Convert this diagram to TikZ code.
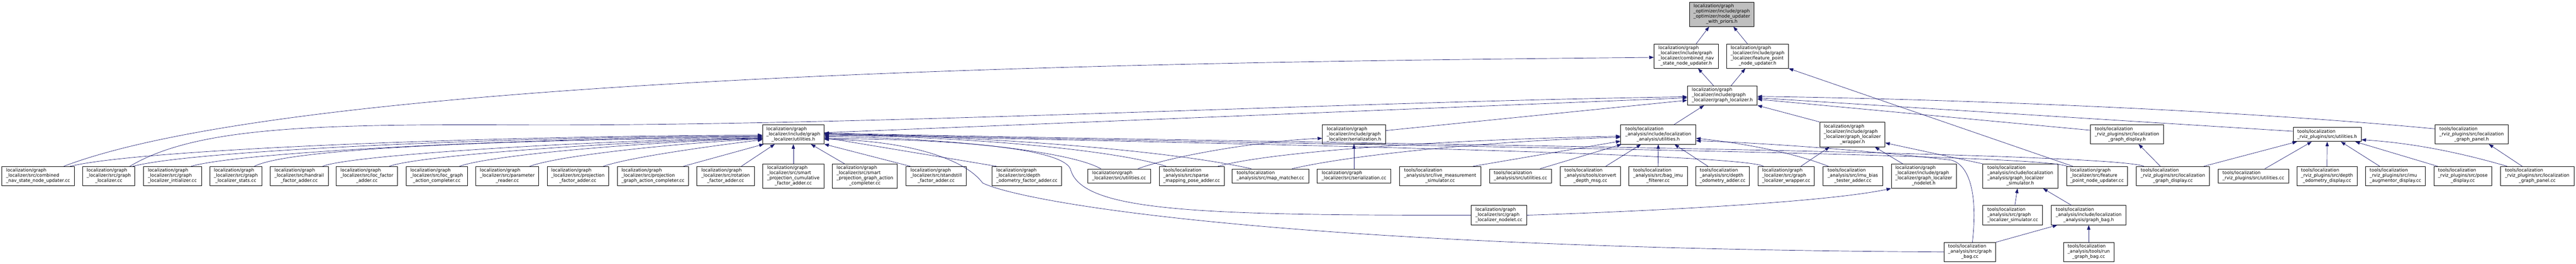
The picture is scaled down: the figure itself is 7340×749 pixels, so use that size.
\documentclass[tikz,border=0pt]{standalone}
\usepackage{fontspec}
\setmainfont{DejaVu Sans}
\usetikzlibrary{arrows.meta}
\definecolor{edgecol}{HTML}{191970}
\definecolor{grayfill}{HTML}{BFBFBF}
\newcommand{\dfont}{\fontsize{12.9pt}{14.7pt}\selectfont}
\newcommand{\dl}[2]{\begin{tabular}{@{}l@{}}#1\\\multicolumn{1}{@{}c@{}}{#2}\end{tabular}}
\tikzset{
  dbox/.style={draw=black,line width=1.2pt,fill=white,inner sep=0pt,font=\dfont},
  btwo/.style={dbox,minimum height=41pt},
  bthree/.style={dbox,minimum height=55pt},
  bfour/.style={dbox,minimum height=69pt},
  edge/.style={draw=edgecol,line width=1pt,-{Triangle[length=13pt,width=9.5pt]}},
}
\begin{document}
\begin{tikzpicture}[x=1pt,y=-1pt]
\fill[white] (0,0) rectangle (7340,749);
\useasboundingbox (0,0) rectangle (7340,749);

% ---- rows 0-3
\node[bfour,fill=grayfill,minimum width=184pt] (T0) at (4906,40.5) {\dl{localization/graph\\\_optimizer/include/graph\\\_optimizer/node\_updater}{\_with\_priors.h}};
\node[bfour,minimum width=183pt] (CNh) at (4804.5,159.5) {\dl{localization/graph\\\_localizer/include/graph\\\_localizer/combined\_nav}{\_state\_node\_updater.h}};
\node[bfour,minimum width=176pt] (FPh) at (5008,159.5) {\dl{localization/graph\\\_localizer/include/graph\\\_localizer/feature\_point}{\_node\_updater.h}};
\node[bthree,minimum width=199pt] (GLh) at (4907.5,271.5) {\dl{localization/graph\\\_localizer/include/graph}{\_localizer/graph\_localizer.h}};
\node[bthree,minimum width=175pt,minimum height=54pt] (UTh) at (2260.5,382) {\dl{localization/graph\\\_localizer/include/graph}{\_localizer/utilities.h}};
\node[bthree,minimum width=180pt,minimum height=54pt] (SERh) at (3858,382) {\dl{localization/graph\\\_localizer/include/graph}{\_localizer/serialization.h}};
\node[bthree,minimum width=214pt] (LAUh) at (4725,382) {\dl{tools/localization\\\_analysis/include/localization}{\_analysis/utilities.h}};
\node[bfour,minimum width=186pt,minimum height=70pt] (GLWh) at (5278,382) {\dl{localization/graph\\\_localizer/include/graph\\\_localizer/graph\_localizer}{\_wrapper.h}};
\node[bthree,minimum width=209pt,minimum height=54pt] (RDh) at (6060.5,382) {\dl{tools/localization\\\_rviz\_plugins/src/localization}{\_graph\_display.h}};
\node[btwo,minimum width=194pt,minimum height=40pt] (RUh) at (6631,382) {\dl{tools/localization}{\_rviz\_plugins/src/utilities.h}};
\node[bthree,minimum width=209pt,minimum height=54pt] (RPh) at (7042.5,382) {\dl{tools/localization\\\_rviz\_plugins/src/localization}{\_graph\_panel.h}};

% ---- row 4
\node[bthree,minimum width=207pt] (CNcc) at (108.5,500.5) {\dl{localization/graph\\\_localizer/src/combined}{\_nav\_state\_node\_updater.cc}};
\node[bthree,minimum width=148pt] (GLcc) at (310,500.5) {\dl{localization/graph\\\_localizer/src/graph}{\_localizer.cc}};
\node[bthree,minimum width=166pt] (GLIcc) at (491,500.5) {\dl{localization/graph\\\_localizer/src/graph}{\_localizer\_intializer.cc}};
\node[bthree,minimum width=148pt] (GLSTcc) at (672,500.5) {\dl{localization/graph\\\_localizer/src/graph}{\_localizer\_stats.cc}};
\node[bthree,minimum width=165pt] (HRcc) at (852.5,500.5) {\dl{localization/graph\\\_localizer/src/handrail}{\_factor\_adder.cc}};
\node[bthree,minimum width=175pt] (LFcc) at (1045.5,500.5) {\dl{localization/graph\\\_localizer/src/loc\_factor}{\_adder.cc}};
\node[bthree,minimum width=175pt] (LGAcc) at (1244.5,500.5) {\dl{localization/graph\\\_localizer/src/loc\_graph}{\_action\_completer.cc}};
\node[bthree,minimum width=179pt] (PRcc) at (1445.5,500.5) {\dl{localization/graph\\\_localizer/src/parameter}{\_reader.cc}};
\node[bthree,minimum width=175pt] (PFcc) at (1646.5,500.5) {\dl{localization/graph\\\_localizer/src/projection}{\_factor\_adder.cc}};
\node[bthree,minimum width=203pt] (PGAcc) at (1860.5,500.5) {\dl{localization/graph\\\_localizer/src/projection}{\_graph\_action\_completer.cc}};
\node[bthree,minimum width=163pt] (ROTcc) at (2067.5,500.5) {\dl{localization/graph\\\_localizer/src/rotation}{\_factor\_adder.cc}};
\node[bfour,minimum width=175pt] (SPCcc) at (2260.5,500.5) {\dl{localization/graph\\\_localizer/src/smart\\\_projection\_cumulative}{\_factor\_adder.cc}};
\node[bfour,minimum width=185pt] (SPGAcc) at (2464.5,500.5) {\dl{localization/graph\\\_localizer/src/smart\\\_projection\_graph\_action}{\_completer.cc}};
\node[bthree,minimum width=171pt] (STcc) at (2667.5,500.5) {\dl{localization/graph\\\_localizer/src/standstill}{\_factor\_adder.cc}};
\node[bthree,minimum width=198pt] (DOFcc) at (2926,500.5) {\dl{localization/graph\\\_localizer/src/depth}{\_odometry\_factor\_adder.cc}};
\node[btwo,minimum width=179pt] (GUcc) at (3188.5,500.5) {\dl{localization/graph}{\_localizer/src/utilities.cc}};
\node[bthree,minimum width=185pt] (SMPcc) at (3395.5,500.5) {\dl{tools/localization\\\_analysis/src/sparse}{\_mapping\_pose\_adder.cc}};
\node[btwo,minimum width=218pt] (MMcc) at (3620,500.5) {\dl{tools/localization}{\_analysis/src/map\_matcher.cc}};
\node[btwo,minimum width=210pt] (SERcc) at (3858,500.5) {\dl{localization/graph}{\_localizer/src/serialization.cc}};
\node[bthree,minimum width=231pt] (LMScc) at (4103.5,500.5) {\dl{tools/localization\\\_analysis/src/live\_measurement}{\_simulator.cc}};
\node[btwo,minimum width=177pt] (LAUcc) at (4332.5,500.5) {\dl{tools/localization}{\_analysis/src/utilities.cc}};
\node[bthree,minimum width=173pt] (CDMcc) at (4531.5,500.5) {\dl{tools/localization\\\_analysis/tools/convert}{\_depth\_msg.cc}};
\node[bthree,minimum width=167pt] (BIFcc) at (4724.5,500.5) {\dl{tools/localization\\\_analysis/src/bag\_imu}{\_filterer.cc}};
\node[bthree,minimum width=153pt] (DOAcc) at (4908.5,500.5) {\dl{tools/localization\\\_analysis/src/depth}{\_odometry\_adder.cc}};
\node[bthree,minimum width=161pt] (GLWcc) at (5089.5,500.5) {\dl{localization/graph\\\_localizer/src/graph}{\_localizer\_wrapper.cc}};
\node[bthree,minimum width=169pt] (IBTcc) at (5279.5,500.5) {\dl{tools/localization\\\_analysis/src/imu\_bias}{\_tester\_adder.cc}};
\node[bfour,minimum width=185pt] (GLNh) at (5481.5,500.5) {\dl{localization/graph\\\_localizer/include/graph\\\_localizer/graph\_localizer}{\_nodelet.h}};
\node[bfour,minimum width=213pt] (GLSh) at (5756.5,500.5) {\dl{tools/localization\\\_analysis/include/localization\\\_analysis/graph\_localizer}{\_simulator.h}};
\node[bthree,minimum width=174pt] (FPcc) at (5975,500.5) {\dl{localization/graph\\\_localizer/src/feature}{\_point\_node\_updater.cc}};
\node[bthree,minimum width=209pt] (RDcc) at (6191.5,500.5) {\dl{tools/localization\\\_rviz\_plugins/src/localization}{\_graph\_display.cc}};
\node[btwo,minimum width=201pt] (RUcc) at (6420.5,500.5) {\dl{tools/localization}{\_rviz\_plugins/src/utilities.cc}};
\node[bthree,minimum width=171pt] (RDOcc) at (6630.5,500.5) {\dl{tools/localization\\\_rviz\_plugins/src/depth}{\_odometry\_display.cc}};
\node[bthree,minimum width=171pt] (RIAcc) at (6825.5,500.5) {\dl{tools/localization\\\_rviz\_plugins/src/imu}{\_augmentor\_display.cc}};
\node[bthree,minimum width=165pt] (RPOcc) at (7017.5,500.5) {\dl{tools/localization\\\_rviz\_plugins/src/pose}{\_display.cc}};
\node[bthree,minimum width=209pt] (RPcc) at (7229.5,500.5) {\dl{tools/localization\\\_rviz\_plugins/src/localization}{\_graph\_panel.cc}};

% ---- rows 5-6
\node[bthree,minimum width=158pt] (GLNcc) at (4271,611.5) {\dl{localization/graph\\\_localizer/src/graph}{\_localizer\_nodelet.cc}};
\node[bthree,minimum width=170pt] (GLScc) at (5735,611.5) {\dl{tools/localization\\\_analysis/src/graph}{\_localizer\_simulator.cc}};
\node[bthree,minimum width=213pt] (GBh) at (5951.5,611.5) {\dl{tools/localization\\\_analysis/include/localization}{\_analysis/graph\_bag.h}};
\node[bthree,minimum width=146pt,minimum height=54pt] (GBcc) at (5613,716) {\dl{tools/localization\\\_analysis/src/graph}{\_bag.cc}};
\node[bthree,minimum width=143pt,minimum height=54pt] (RGBcc) at (5951.5,716) {\dl{tools/localization\\\_analysis/tools/run}{\_graph\_bag.cc}};

% ---- edges: top part
\draw[edge] ([xshift=28.5pt]CNh.north) -- ([xshift=-36pt]T0.south);
\draw[edge] ([xshift=-29pt]FPh.north) -- ([xshift=33pt]T0.south);
\draw[edge] ([xshift=-25pt]GLh.north) -- ([xshift=34pt]CNh.south);
\draw[edge] ([xshift=25pt]GLh.north) -- ([xshift=-35pt]FPh.south);
\draw[edge] ([xshift=73.5pt]CNcc.north) .. controls (900,200) and (3500,175) .. ([yshift=-3.5pt]CNh.west);
\draw[edge] ([xshift=60pt]GLcc.north) .. controls (560,360) and (900,352) .. (1500,355) .. controls (2500,358) and (3800,290) .. ([yshift=-3.5pt]GLh.west);
\draw[edge] ([yshift=5pt]UTh.east) -- ([yshift=-6.5pt]GLh.west);
\draw[edge] ([yshift=11pt]SERh.east) -- ([yshift=-13.5pt]GLh.west);
\draw[edge] ([xshift=45pt]LAUh.north) -- ([xshift=-52pt]GLh.south);
\draw[edge] (GLWh.north west) -- (GLh.south east);
\draw[edge] ([yshift=12pt]RDh.west) -- ([yshift=-10.5pt]GLh.east);
\draw[edge] ([yshift=9pt]RUh.west) -- ([yshift=-6.5pt]GLh.east);
\draw[edge] ([yshift=16pt]RPh.west) .. controls (6400,315) and (5600,282) .. ([yshift=-2.5pt]GLh.east);
\draw[edge] ([xshift=-69pt]FPcc.north) -- (FPh.south east);

% ---- edges into graph_localizer/utilities.h from the left
\draw[edge] ([xshift=91.5pt]CNcc.north) .. controls (420,420) and (1500,385) .. ([yshift=-2pt]UTh.west);
\draw[edge] ([xshift=69pt]GLcc.north) .. controls (560,425) and (1500,388) .. ([yshift=-4pt]UTh.west);
\draw[edge] ([xshift=54pt]GLIcc.north) .. controls (700,428) and (1600,390) .. ([yshift=-6pt]UTh.west);
\draw[edge] ([xshift=53pt]GLSTcc.north) .. controls (850,410) and (1700,395) .. ([yshift=-8pt]UTh.west);
\draw[edge] ([xshift=67pt]HRcc.north) .. controls (1000,440) and (1700,398) .. ([yshift=-10pt]UTh.west);
\draw[edge] ([xshift=64pt]LFcc.north) .. controls (1200,440) and (1800,400) .. ([yshift=-11pt]UTh.west);
\draw[edge] ([xshift=65pt]LGAcc.north) .. controls (1400,440) and (1850,402) .. ([yshift=-12pt]UTh.west);
\draw[edge] ([xshift=64pt]PRcc.north) .. controls (1600,440) and (1950,405) .. ([yshift=-13pt]UTh.west);
\draw[edge] ([xshift=73pt]PFcc.north) .. controls (1800,445) and (2050,412) .. ([yshift=-15pt]UTh.west);
\draw[edge] ([xshift=87pt]PGAcc.north) -- ([xshift=4pt]UTh.south west);
\draw[edge] ([xshift=45pt]ROTcc.north) -- ([xshift=-53pt]UTh.south);
\draw[edge] (SPCcc.north) -- (UTh.south);
\draw[edge] ([xshift=-58pt]SPGAcc.north) -- ([xshift=50pt]UTh.south);
\draw[edge] ([xshift=-74pt]STcc.north) -- (UTh.south east);
\draw[edge] ([xshift=-87pt]DOFcc.north) -- ([yshift=-9pt]UTh.east);

% ---- edges into graph_localizer/utilities.h from the right
\draw[edge] ([xshift=-52pt]GUcc.north) .. controls (3050,430) and (2700,392) .. ([yshift=-6pt]UTh.east);
\draw[edge] ([xshift=-73pt]SMPcc.north) .. controls (3150,420) and (2700,386) .. ([yshift=-3pt]UTh.east);
\draw[edge] ([xshift=-55pt]MMcc.north) .. controls (3300,420) and (2700,382) .. ([yshift=-1pt]UTh.east);
\draw[edge] ([xshift=-65pt]GLWcc.north) .. controls (4950,430) and (3000,400) .. ([yshift=1pt]UTh.east);
\draw[edge] ([xshift=-85pt]FPcc.north) .. controls (5800,432) and (3500,410) .. ([yshift=3pt]UTh.east);
\draw[edge] ([xshift=-83pt]RDcc.north) .. controls (6000,428) and (3500,405) .. ([yshift=4pt]UTh.east);
\draw[edge] (GLNcc.west) .. controls (3400,612) and (3080,600) .. (3050,480) .. controls (3020,410) and (2600,394) .. ([yshift=-12pt]UTh.east);
\draw[edge] (GBcc.west) .. controls (3600,705) and (2900,570) .. (2800,520) .. controls (2740,440) and (2550,398) .. ([yshift=-14pt]UTh.east);

% ---- serialization
\draw[edge] ([xshift=54pt]GUcc.north) .. controls (3350,440) and (3600,400) .. ([yshift=-11pt]SERh.west);
\draw[edge] (SERcc.north) -- (SERh.south);

% ---- localization_analysis/utilities.h
\draw[edge] ([xshift=75pt]SMPcc.north) .. controls (3650,425) and (4200,395) .. ([yshift=-5pt]LAUh.west);
\draw[edge] ([xshift=62pt]MMcc.north) .. controls (3850,440) and (4250,400) .. ([yshift=-8pt]LAUh.west);
\draw[edge] ([xshift=94pt]LMScc.north) -- ([yshift=-19pt]LAUh.west);
\draw[edge] ([xshift=56pt]LAUcc.north) -- ([xshift=3pt]LAUh.south west);
\draw[edge] ([xshift=44pt]CDMcc.north) -- ([xshift=-49pt]LAUh.south);
\draw[edge] (BIFcc.north) -- (LAUh.south);
\draw[edge] ([xshift=-42pt]DOAcc.north) -- ([xshift=46pt]LAUh.south);
\draw[edge] ([xshift=-70pt]IBTcc.north) .. controls (5100,430) and (4950,405) .. ([yshift=-11pt]LAUh.east);
\draw[edge] ([xshift=7pt]GBcc.north) .. controls (5635,560) and (5615,470) .. (5560,455) .. controls (5300,425) and (5000,405) .. ([yshift=-18pt]LAUh.east);

% ---- graph bag / simulator / wrapper / nodelet
\draw[edge] (GBcc.north east) -- ([xshift=-89.5pt]GBh.south);
\draw[edge] (RGBcc.north) -- (GBh.south);
\draw[edge] ([xshift=-49pt]GBh.north) -- ([xshift=65pt]GLSh.south);
\draw[edge] ([xshift=6pt]GLScc.north) -- ([xshift=-8pt]GLSh.south);
\draw[edge] (GLSh.north west) -- ([yshift=-24pt]GLWh.east);
\draw[edge] ([xshift=-60pt]GLNh.north) -- ([xshift=64pt]GLWh.south);
\draw[edge] ([xshift=42pt]GLWcc.north) -- ([xshift=-65pt]GLWh.south);
\draw[edge] (GLNcc.east) .. controls (4700,600) and (5200,575) .. (GLNh.south west);

% ---- rviz plugins
\draw[edge] ([xshift=-36pt]RDcc.north) -- ([xshift=33pt]RDh.south);
\draw[edge] ([xshift=88pt]RDcc.north) -- ([xshift=-86pt]RUh.south);
\draw[edge] ([xshift=33pt]RUcc.north) -- ([xshift=-44pt]RUh.south);
\draw[edge] (RDOcc.north) -- (RUh.south);
\draw[edge] ([xshift=-45pt]RIAcc.north) -- ([xshift=39pt]RUh.south);
\draw[edge] ([xshift=-72pt]RPOcc.north) -- ([xshift=80pt]RUh.south);
\draw[edge] ([xshift=-86pt]RPcc.north) .. controls (6980,425) and (6850,405) .. ([yshift=-15pt]RUh.east);
\draw[edge] ([xshift=-43pt]RPcc.north) -- ([xshift=49pt]RPh.south);
\end{tikzpicture}
\end{document}
